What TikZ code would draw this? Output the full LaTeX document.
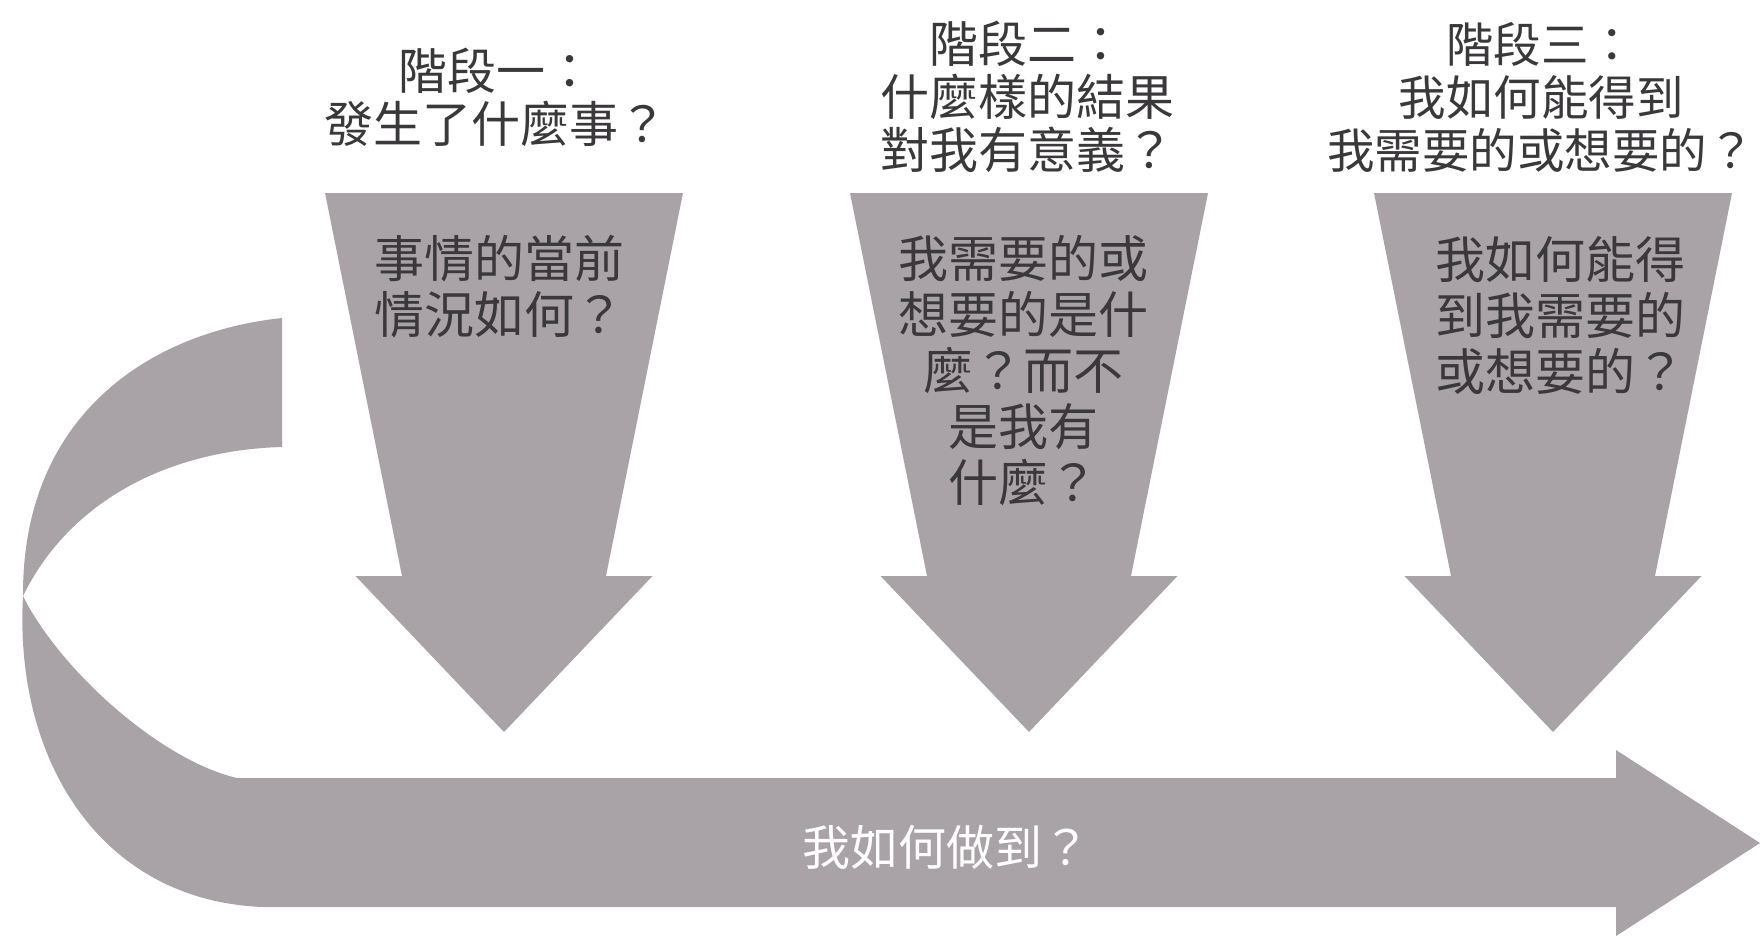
\documentclass[tikz,border=0pt]{standalone}
\usepackage{fontspec}
\newfontfamily\cjk{Noto Sans CJK TC}
\definecolor{arrowgray}{RGB}{169,163,167}
\definecolor{ink}{RGB}{58,56,58}
\tikzset{
  downarr/.pic={
    \fill[arrowgray] (-179,193) -- (179,193) -- (102,576) -- (148.5,576)
      -- (0,732) -- (-148.5,576) -- (-102,576) -- cycle;
  },
  titletext/.style={text=ink, font=\cjk\fontsize{49}{53}\selectfont, align=center, inner sep=0pt},
  intext/.style={text=ink, font=\cjk\fontsize{50}{56}\selectfont, align=center, inner sep=0pt},
  bartext/.style={text=white, font=\cjk\fontsize{48}{50}\selectfont, inner sep=0pt},
}
\begin{document}
\begin{tikzpicture}[x=1pt,y=-1pt]
\useasboundingbox (0,0) rectangle (1760,937);

% U-turn ribbon: upper part
\fill[arrowgray] (282,318) .. controls (150,332) and (22,415) .. (23,596)
  .. controls (70,500) and (170,450) .. (282,447) -- cycle;
% lower part and horizontal arrow
\fill[arrowgray] (23,596) .. controls (60,670) and (160,760) .. (237,778)
  -- (1616,778) -- (1616,750) -- (1760,843) -- (1616,936) -- (1616,907)
  -- (262,907) .. controls (100,900) and (14,760) .. (23,596) -- cycle;

% three down arrows
\pic (arrA) at (504,0) {downarr};
\pic (arrB) at (1029,0) {downarr};
\pic (arrC) at (1553,0) {downarr};

% titles
\node[titletext] (t1) at (496,97) {階段一：\\發生了什麼事？};
\node[titletext] (t2) at (1027,97) {階段二：\\什麼樣的結果\\對我有意義？};
\node[titletext, font=\cjk\fontsize{47.5}{53}\selectfont] (t3) at (1541,97) {階段三：\\我如何能得到\\我需要的或想要的？};

% texts in arrows
\node[intext] (a1) at (499,287) {事情的當前\\情況如何？};
\node[intext] (a2) at (1023,371) {我需要的或\\想要的是什\\麼？而不\\是我有\\什麼？};
\node[intext] (a3) at (1560,315) {我如何能得\\到我需要的\\或想要的？};

% bar label
\node[bartext] (b) at (946,847) {我如何做到？};
\end{tikzpicture}
\end{document}
